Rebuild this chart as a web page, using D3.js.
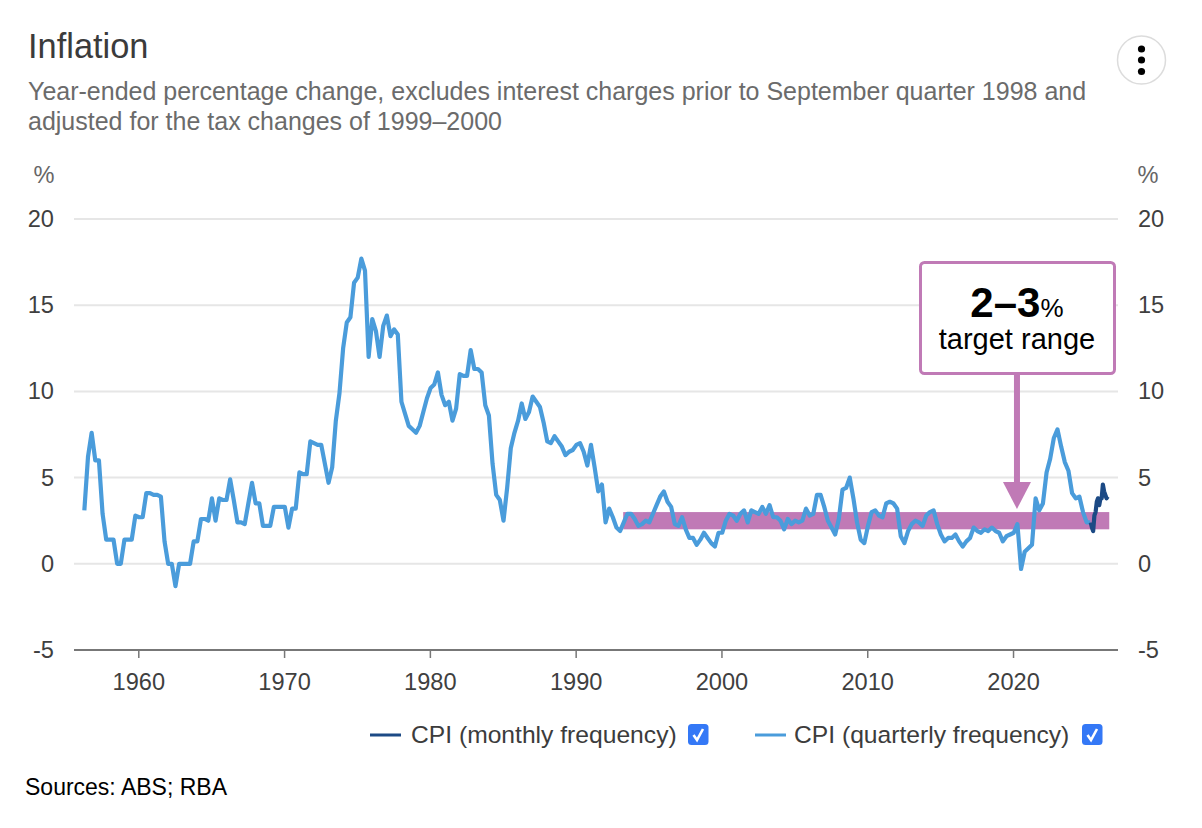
<!DOCTYPE html>
<html>
<head>
<meta charset="utf-8">
<title>Inflation</title>
<script src="https://cdn.jsdelivr.net/npm/d3@7"></script>
<style>
  body { margin: 0; background: #fff; }
  text { font-family: "Liberation Sans", Arial, sans-serif; }
  .domain { display: none; }
</style>
</head>
<body>
<div id="chart"></div>
<script>
// year-ended % change, one value per quarter from 1956.3
const quarterlyStart = 1956.3;
const quarterlyValues = [
  3.1, 6.2, 7.6, 6.0, 6.0, 2.9, 1.4, 1.4, 1.4, 0,
  0, 1.4, 1.4, 1.4, 2.8, 2.7, 2.7, 4.1, 4.1, 4.0,
  4.0, 3.9, 1.3, 0, 0, -1.3, 0, 0, 0, 0,
  1.3, 1.3, 2.6, 2.6, 2.5, 3.8, 2.5, 3.8, 3.7, 3.7,
  4.9, 3.7, 2.4, 2.4, 2.3, 3.5, 4.7, 3.5, 3.5, 2.2,
  2.2, 2.2, 3.3, 3.3, 3.3, 3.3, 2.1, 3.2, 3.2, 5.3,
  5.2, 5.2, 7.1, 7.0, 6.9, 6.9, 5.8, 4.7, 5.6, 8.3,
  9.9, 12.5, 14.0, 14.3, 16.3, 16.6, 17.7, 17.0, 12.0, 14.2,
  13.5, 12.0, 13.8, 14.4, 13.2, 13.6, 13.3, 9.4, 8.7, 8.0,
  7.8, 7.6, 8.0, 8.8, 9.6, 10.2, 10.4, 11.1, 9.8, 9.2,
  9.4, 8.3, 9.0, 11.0, 10.9, 10.9, 12.4, 11.3, 11.3, 11.1,
  9.2, 8.6, 5.8, 4.0, 3.7, 2.5, 4.4, 6.7, 7.6, 8.3,
  9.3, 8.4, 8.8, 9.7, 9.4, 9.1, 8.2, 7.1, 7.0, 7.4,
  7.1, 6.8, 6.3, 6.5, 6.6, 6.9, 7.0, 6.5, 5.7, 6.9,
  5.6, 4.2, 4.6, 2.4, 3.2, 2.7, 2.1, 1.9, 2.4, 2.9,
  2.9, 2.6, 2.2, 2.3, 2.5, 2.4, 2.9, 3.4, 3.9, 4.2,
  3.6, 3.3, 2.3, 2.2, 2.7, 2.0, 1.5, 1.5, 1.1, 1.4,
  1.8, 1.5, 1.2, 1.0, 1.8, 1.8, 2.5, 2.9, 2.8, 2.5,
  2.9, 3.1, 2.4, 3.1, 3.0, 2.9, 3.3, 2.9, 3.4, 2.7,
  2.7, 2.5, 2.0, 2.6, 2.3, 2.5, 2.4, 2.5, 3.2, 2.8,
  2.9, 4.0, 4.0, 3.3, 2.5, 2.1, 1.7, 2.6, 4.3, 4.4,
  5.0, 3.8, 2.4, 1.4, 1.2, 2.2, 3.0, 3.1, 2.8, 2.7,
  3.5, 3.6, 3.5, 3.2, 1.6, 1.2, 1.9, 2.3, 2.5, 2.4,
  2.2, 2.8, 3.0, 3.1, 2.3, 1.7, 1.3, 1.5, 1.5, 1.7,
  1.3, 1.0, 1.3, 1.5, 2.1, 1.9, 1.8, 2.0, 1.9, 2.1,
  1.9, 1.8, 1.3, 1.6, 1.7, 1.8, 2.3, -0.3, 0.7, 0.9,
  1.1, 3.8, 3.1, 3.5, 5.3, 6.1, 7.3, 7.8, 6.8, 5.9,
  5.4, 4.1, 3.8, 3.9, 3.0, 2.4, 2.4
];

// one value per month from 2025.33
const monthlyStart = 2025.33;
const monthlyValues = [2.4, 2.1, 1.9, 2.8, 3.0, 3.6, 3.8, 3.4, 3.8, 3.8, 4.6, 4.2, 4.0, 3.8, 3.9];

const yearTicks = [1960, 1970, 1980, 1990, 2000, 2010, 2020];
const valueTicks = [-5, 0, 5, 10, 15, 20];
const targetRange = [2, 3];
const targetYears = [1993.26, 2026.6];
const arrowYear = 2020.27;

const subtitleLines = [
  "Year-ended percentage change, excludes interest charges prior to September quarter 1998 and",
  "adjusted for the tax changes of 1999\u20132000"
];

const lightBlue = "#4a9cdb", darkBlue = "#1c4a85", purple = "#c07ab6", tickColor = "#3f3f3f";

const width = 1202, height = 828;

const svg = d3.select("#chart")
  .append("svg")
  .attr("width", width)
  .attr("height", height)
  .style("display", "block");

const x = d3.scaleLinear().domain([1955.59, 2027.2]).range([74, 1118]);
const y = d3.scaleLinear().domain([-5, 20]).range([650, 219]);

// title block
svg.append("text").attr("x", 28).attr("y", 58)
  .attr("font-size", 34.4).attr("fill", "#3b3b3b").text("Inflation");

svg.selectAll(".subtitle")
  .data(subtitleLines)
  .enter().append("text")
  .attr("class", "subtitle")
  .attr("x", 28)
  .attr("y", (d, i) => 100 + i * 30)
  .attr("font-size", 25)
  .attr("fill", "#6b6b6b")
  .text(d => d);

// menu button
const menu = svg.append("g");
menu.append("circle").attr("cx", 1141.5).attr("cy", 60).attr("r", 24)
  .attr("fill", "#fff").attr("stroke", "#dcdcdc").attr("stroke-width", 1.5);
menu.selectAll(".dot")
  .data([-11, 0, 11.5])
  .enter().append("circle")
  .attr("cx", 1141.5).attr("cy", d => 60 + d).attr("r", 3.6).attr("fill", "#000");

// gridlines
svg.append("g").selectAll("line")
  .data(valueTicks.filter(d => d > -5))
  .enter().append("line")
  .attr("x1", 74).attr("x2", 1118)
  .attr("y1", d => y(d)).attr("y2", d => y(d))
  .attr("stroke", "#e6e6e6").attr("stroke-width", 2);

// axes
const xAxis = svg.append("g")
  .attr("transform", `translate(0,${y(-5)})`)
  .call(d3.axisBottom(x).tickValues(yearTicks).tickFormat(d3.format("d")).tickSize(8).tickPadding(15));
xAxis.selectAll("line").attr("stroke", "#777").attr("stroke-width", 1.5);
xAxis.selectAll("text").attr("font-size", 23.6).attr("fill", tickColor);
xAxis.append("line")
  .attr("x1", 74).attr("x2", 1118)
  .attr("stroke", "#777").attr("stroke-width", 2);

// plain hyphen on the negative tick, as in the original
const leftAxis = svg.append("g")
  .attr("transform", "translate(54,0)")
  .call(d3.axisLeft(y).tickValues(valueTicks).tickFormat(d => String(d)).tickSize(0).tickPadding(0));
const rightAxis = svg.append("g")
  .attr("transform", "translate(1138,0)")
  .call(d3.axisRight(y).tickValues(valueTicks).tickFormat(d => String(d)).tickSize(0).tickPadding(0));
[leftAxis, rightAxis].forEach(a => a.selectAll("text").attr("font-size", 23.6).attr("fill", tickColor));

svg.selectAll(".unit")
  .data([44, 1148])
  .enter().append("text")
  .attr("class", "unit")
  .attr("x", d => d).attr("y", 183)
  .attr("text-anchor", "middle")
  .attr("font-size", 23.6).attr("fill", "#666")
  .text("%");

// target band
svg.append("rect")
  .attr("x", x(targetYears[0]))
  .attr("width", x(targetYears[1]) - x(targetYears[0]))
  .attr("y", y(targetRange[1]))
  .attr("height", y(targetRange[0]) - y(targetRange[1]))
  .attr("fill", purple);

// series
const quarterly = quarterlyValues.map((v, i) => ({ year: quarterlyStart + i / 4, value: v }));
const monthly = monthlyValues.map((v, i) => ({ year: monthlyStart + i / 12, value: v }));

const line = d3.line().x(d => x(d.year)).y(d => y(d.value));

svg.append("path").datum(quarterly)
  .attr("d", line).attr("fill", "none")
  .attr("stroke", lightBlue).attr("stroke-width", 4.2).attr("stroke-linejoin", "round");
svg.append("path").datum(monthly)
  .attr("d", line).attr("fill", "none")
  .attr("stroke", darkBlue).attr("stroke-width", 4.2).attr("stroke-linejoin", "round");

// callout box and arrow
const ax = x(arrowYear);
svg.append("rect")
  .attr("x", ax - 3).attr("y", 374).attr("width", 6).attr("height", 110)
  .attr("fill", purple);
svg.append("path")
  .attr("d", `M${ax - 14},482 L${ax + 14},482 L${ax},509 Z`)
  .attr("fill", purple);
svg.append("rect")
  .attr("x", 920.5).attr("y", 262.5).attr("width", 194).attr("height", 111).attr("rx", 4)
  .attr("fill", "#fff").attr("stroke", purple).attr("stroke-width", 3);

const big = svg.append("text").attr("x", ax).attr("y", 317).attr("text-anchor", "middle").attr("fill", "#000");
big.append("tspan").attr("font-size", 42).attr("font-weight", "bold").text("2\u20133");
big.append("tspan").attr("font-size", 26).text("%");
svg.append("text").attr("x", ax).attr("y", 349).attr("text-anchor", "middle")
  .attr("font-size", 29).attr("fill", "#000").text("target range");

// legend
const legendItems = [
  { label: "CPI (monthly frequency)", color: darkBlue, x0: 370, box: 688 },
  { label: "CPI (quarterly frequency)", color: lightBlue, x0: 755, box: 1082 }
];
const legend = svg.append("g").selectAll("g")
  .data(legendItems)
  .enter().append("g");
legend.append("line")
  .attr("x1", d => d.x0).attr("x2", d => d.x0 + 31)
  .attr("y1", 735).attr("y2", 735)
  .attr("stroke", d => d.color).attr("stroke-width", 3);
legend.append("text")
  .attr("x", d => d.x0 + (d.x0 === 370 ? 41 : 39)).attr("y", 743)
  .attr("font-size", 24.65).attr("fill", "#3c3c3c")
  .text(d => d.label);
legend.append("rect")
  .attr("x", d => d.box).attr("y", 724).attr("width", 20.5).attr("height", 21).attr("rx", 3.5)
  .attr("fill", "#3478f6");
legend.append("path")
  .attr("d", d => `M${d.box + 5.5},735 L${d.box + 9},740 L${d.box + 15},729`)
  .attr("fill", "none").attr("stroke", "#fff").attr("stroke-width", 2.6);

svg.append("text").attr("x", 25).attr("y", 795)
  .attr("font-size", 23).attr("fill", "#000").text("Sources: ABS; RBA");
</script>
</body>
</html>
